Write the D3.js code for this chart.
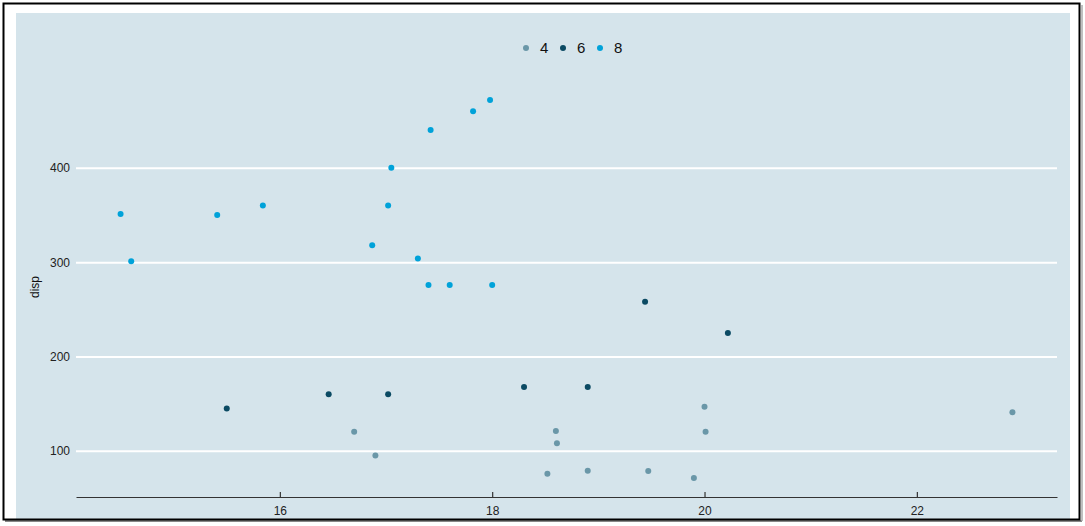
<!DOCTYPE html>
<html>
<head>
<meta charset="utf-8">
<script src="https://cdn.jsdelivr.net/npm/d3@7"></script>
<style>
  body { margin: 0; background: #fff; }
  svg { display: block; font-family: "Liberation Sans", Arial, sans-serif; }
</style>
</head>
<body>
<div id="chart"></div>
<script>
// mtcars: qsec vs disp, coloured by cyl
const qsec = [16.46, 17.02, 18.61, 19.44, 17.02, 20.22, 15.84, 20.00, 22.90, 18.30, 18.90,
  17.40, 17.60, 18.00, 17.98, 17.82, 17.42, 19.47, 18.52, 19.90, 20.01, 16.87, 17.30,
  15.41, 17.05, 18.90, 16.70, 16.90, 14.50, 15.50, 14.60, 18.60];
const disp = [160, 160, 108, 258, 360, 225, 360, 146.7, 140.8, 167.6, 167.6,
  275.8, 275.8, 275.8, 472, 460, 440, 78.7, 75.7, 71.1, 120.1, 318, 304,
  350, 400, 79, 120.3, 95.1, 351, 145, 301, 121];
const cyl = [6, 6, 4, 6, 8, 6, 8, 4, 4, 6, 6,
  8, 8, 8, 8, 8, 8, 4, 4, 4, 4, 8, 8,
  8, 8, 4, 4, 4, 8, 6, 8, 4];
const cylLevels = ['4', '6', '8'];
const xTicks = [16, 18, 20, 22];
const yTicks = [100, 200, 300, 400];

const W = 1085, H = 526;
const margin = { top: 81, right: 28, bottom: 29, left: 76 };
const innerW = W - margin.left - margin.right;
const innerH = H - margin.top - margin.bottom;

const svg = d3.select('#chart').append('svg')
  .attr('width', W)
  .attr('height', H);

// panel background
svg.append('rect')
  .attr('x', 16).attr('y', 13)
  .attr('width', 1054).attr('height', 506)
  .attr('fill', '#d5e4eb');

const color = d3.scaleOrdinal()
  .domain(cylLevels)
  .range(['#6a97a8', '#0b4a63', '#00a2d9']);

const xExt = d3.extent(qsec), yExt = d3.extent(disp);
const xPad = (xExt[1] - xExt[0]) * 0.05, yPad = (yExt[1] - yExt[0]) * 0.05;

const x = d3.scaleLinear()
  .domain([xExt[0] - xPad, xExt[1] + xPad])
  .range([0, innerW]);
const y = d3.scaleLinear()
  .domain([yExt[0] - yPad, yExt[1] + yPad])
  .range([innerH, 0]);

const g = svg.append('g')
  .attr('transform', `translate(${margin.left},${margin.top})`);

// horizontal grid + y labels
const yAxis = g.append('g')
  .call(d3.axisLeft(y).tickValues(yTicks).tickSize(-innerW).tickPadding(6));
yAxis.select('.domain').remove();
yAxis.selectAll('.tick line').attr('stroke', '#fff').attr('stroke-width', 2);
yAxis.selectAll('.tick text').attr('fill', '#222').style('font-size', '12px');

// x axis
const xAxis = g.append('g')
  .attr('transform', `translate(0,${innerH})`)
  .call(d3.axisBottom(x).tickValues(xTicks).tickSizeInner(-5).tickSizeOuter(0).tickPadding(9));
xAxis.select('.domain').attr('stroke', '#333').attr('stroke-width', 1.2);
xAxis.selectAll('.tick line').attr('stroke', '#333').attr('stroke-width', 1.2);
xAxis.selectAll('.tick text').attr('fill', '#222').style('font-size', '12px');

g.append('text')
  .attr('transform', `translate(${35 - margin.left},${innerH / 2 - 2}) rotate(-90)`)
  .attr('text-anchor', 'middle')
  .attr('dy', '0.35em')
  .style('font-size', '12px')
  .attr('fill', '#111')
  .text('disp');

// points
g.selectAll('circle.pt')
  .data(qsec.map((q, i) => ({ q, d: disp[i], c: String(cyl[i]) })))
  .enter().append('circle')
  .attr('class', 'pt')
  .attr('cx', d => x(d.q))
  .attr('cy', d => y(d.d))
  .attr('r', 3)
  .attr('fill', d => color(d.c));

// legend
const legend = svg.append('g').attr('transform', 'translate(526,48)');
cylLevels.forEach((lv, i) => {
  const lg = legend.append('g').attr('transform', `translate(${i * 37},0)`);
  lg.append('circle').attr('r', 3).attr('fill', color(lv));
  lg.append('text')
    .attr('x', 14).attr('dy', '0.35em')
    .style('font-size', '15px')
    .attr('fill', '#111')
    .text(lv);
});

// outer frame
svg.append('line')
  .attr('x1', 5).attr('x2', 1082).attr('y1', 521).attr('y2', 521)
  .attr('stroke', '#888').attr('stroke-width', 2);
svg.append('line')
  .attr('x1', 1082).attr('x2', 1082).attr('y1', 5).attr('y2', 521)
  .attr('stroke', '#aaa').attr('stroke-width', 1.5);
svg.append('rect')
  .attr('x', 3.5).attr('y', 3.5)
  .attr('width', 1076).attr('height', 516)
  .attr('fill', 'none')
  .attr('stroke', '#000').attr('stroke-width', 2);
</script>
</body>
</html>
